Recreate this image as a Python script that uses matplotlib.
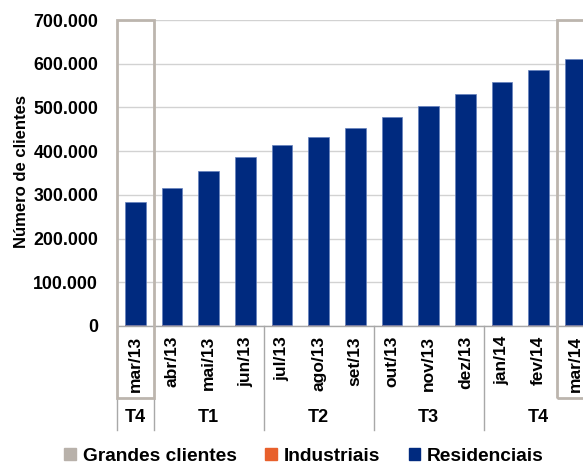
import matplotlib
matplotlib.use("Agg")
import matplotlib.pyplot as plt
from matplotlib.patches import Patch, Rectangle
import numpy as np

# dados
meses = ["mar/13", "abr/13", "mai/13", "jun/13", "jul/13", "ago/13", "set/13",
         "out/13", "nov/13", "dez/13", "jan/14", "fev/14", "mar/14"]
grandes_clientes = [60, 60, 60, 60, 60, 60, 60, 60, 60, 60, 60, 60, 60]
industriais = [1800, 1800, 1800, 1800, 1800, 1800, 1800, 1800, 1800, 1800, 1800, 1800, 1800]
residenciais = [281000, 313000, 353000, 384000, 412000, 431000, 450000,
                477000, 501000, 528000, 556000, 584000, 610000]
trimestres = ["T4", "T1", "T2", "T3", "T4"]
trim_inicio = [0, 1, 4, 7, 10]
trim_fim = [0, 3, 6, 9, 12]
yticks = [0, 100000, 200000, 300000, 400000, 500000, 600000, 700000]

COR_GRANDES = "#b8b1aa"
COR_IND = "#e8602c"
COR_RES = "#002a7f"
COR_CAIXA = "#bcb5ae"
COR_SEP = "#a8a8a8"

FONTE = ["Liberation Sans", "DejaVu Sans"]

fig = plt.figure(figsize=(5.83, 4.65), dpi=100)
ax = fig.add_axes([117 / 583, 1 - 326 / 465, 476.7 / 583, 306 / 465])

x = np.arange(len(meses))
w = 0.56
g = np.array(grandes_clientes)
ind = np.array(industriais)
res = np.array(residenciais)
ax.bar(x, g, w, color=COR_GRANDES, zorder=3)
ax.bar(x, ind, w, bottom=g, color=COR_IND, zorder=3)
ax.bar(x, res, w, bottom=g + ind, color=COR_RES, edgecolor="#6580bd",
       linewidth=0.5, zorder=3)

ax.set_xlim(-0.5, len(meses) - 0.5)
ax.set_ylim(0, 700000)
ax.set_yticks(yticks)
ax.set_yticklabels(["0" if v == 0 else f"{v:,}".replace(",", ".") for v in yticks],
                   family=FONTE, fontweight="bold", fontsize=12.8)
ax.tick_params(axis="y", length=0, pad=13.5)
ax.set_xticks([])
ax.grid(axis="y", color="#d2d2d2", linewidth=1.0, zorder=0)
for s in ["top", "right", "left"]:
    ax.spines[s].set_visible(False)
ax.spines["bottom"].set_color("#a8a8a8")
ax.spines["bottom"].set_linewidth(1.0)
ax.spines["bottom"].set_zorder(4)

# rótulos dos meses (rodados)
for i, m in enumerate(meses):
    ax.text(i, -23000, m, rotation=90, ha="center", va="top",
            family=FONTE, fontweight="bold", fontsize=12.5, clip_on=False)

# trimestres e separadores
fundo = -238000
for nome, a, b in zip(trimestres, trim_inicio, trim_fim):
    ax.text((a + b) / 2, -210000, nome, ha="center", va="center",
            family=FONTE, fontweight="bold", fontsize=13, clip_on=False)
for b in [1, 2, 3]:
    xs = trim_fim[b] + 0.5
    ax.plot([xs, xs], [0, fundo], color=COR_SEP, lw=1.0, clip_on=False)
ax.plot([-0.5, -0.5], [-167000, fundo], color=COR_SEP, lw=1.0, clip_on=False)
ax.plot([0.5, 0.5], [-167000, fundo], color=COR_SEP, lw=1.0, clip_on=False)

# caixas de destaque (mar/13 e mar/14)
for i in [0, len(meses) - 1]:
    ax.add_patch(Rectangle((i - 0.5, -165000), 1.0, 865000, fill=False,
                           edgecolor=COR_CAIXA, linewidth=2.0, clip_on=False, zorder=5))

fig.text(21 / 583, 1 - 172 / 465, "Número de clientes", rotation=90,
         ha="center", va="center", family=FONTE, fontweight="bold", fontsize=12)

handles = [Patch(color=COR_GRANDES), Patch(color=COR_IND), Patch(color=COR_RES)]
fig.legend(handles, ["Grandes clientes", "Industriais", "Residenciais"],
           loc="center", bbox_to_anchor=(304 / 583, 1 - 456 / 465), ncol=3,
           frameon=False, prop={"family": FONTE, "weight": "bold", "size": 13.8},
           handlelength=0.6, handleheight=0.6, handletextpad=0.35,
           columnspacing=1.5, borderpad=0, borderaxespad=0)

fig.savefig("out.png", dpi=100)
